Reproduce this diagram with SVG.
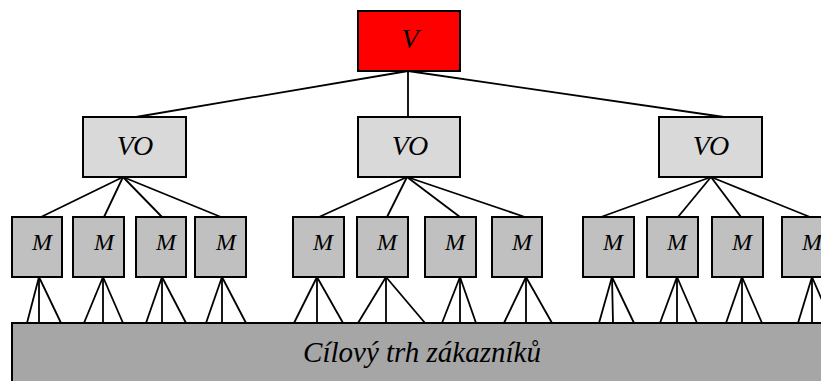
<svg xmlns="http://www.w3.org/2000/svg" width="821" height="381" viewBox="0 0 821 381">
  <style>
    .box { stroke: #000; stroke-width: 2; }
    .v { fill: #ff0000; }
    .vo { fill: #d9d9d9; }
    .m { fill: #c0c0c0; }
    .base { fill: #a6a6a6; }
    .lbl { font-family: "Liberation Serif", "Times New Roman", serif; font-style: italic; fill: #000; text-anchor: middle; }
    .big { font-size: 28px; }
    .small { font-size: 24px; }
    .base-lbl { font-size: 29px; }
    .links line { stroke: #000; stroke-width: 1.8; }
  </style>
  <rect width="821" height="381" fill="#fff"/>

  <!-- connectors -->
  <g id="connectors" class="links">
    <!-- V to VO -->
    <line x1="408" y1="71" x2="136" y2="117"/>
    <line x1="408" y1="71" x2="408" y2="117"/>
    <line x1="408" y1="71" x2="724" y2="117"/>
    <!-- left VO to M -->
    <line x1="123" y1="177" x2="41" y2="217"/>
    <line x1="123" y1="177" x2="104" y2="217"/>
    <line x1="123" y1="177" x2="162" y2="217"/>
    <line x1="123" y1="177" x2="221" y2="217"/>
    <!-- middle VO to M -->
    <line x1="407" y1="177" x2="319" y2="217"/>
    <line x1="407" y1="177" x2="387" y2="217"/>
    <line x1="407" y1="177" x2="460" y2="217"/>
    <line x1="407" y1="177" x2="525" y2="217"/>
    <!-- right VO to M -->
    <line x1="711" y1="177" x2="601" y2="217"/>
    <line x1="711" y1="177" x2="678" y2="217"/>
    <line x1="711" y1="177" x2="741" y2="217"/>
    <line x1="711" y1="177" x2="810" y2="217"/>
    <!-- M to market -->
    <line x1="39" y1="277" x2="27" y2="323"/><line x1="39" y1="277" x2="39" y2="323"/><line x1="39" y1="277" x2="61" y2="323"/>
    <line x1="103" y1="277" x2="84" y2="323"/><line x1="103" y1="277" x2="103" y2="323"/><line x1="103" y1="277" x2="123" y2="323"/>
    <line x1="162" y1="277" x2="146" y2="323"/><line x1="162" y1="277" x2="162" y2="323"/><line x1="162" y1="277" x2="186" y2="323"/>
    <line x1="222" y1="277" x2="206" y2="323"/><line x1="222" y1="277" x2="222" y2="323"/><line x1="222" y1="277" x2="246" y2="323"/>
    <line x1="317" y1="277" x2="294" y2="323"/><line x1="317" y1="277" x2="317" y2="323"/><line x1="317" y1="277" x2="343" y2="323"/>
    <line x1="386" y1="277" x2="358" y2="323"/><line x1="386" y1="277" x2="386" y2="323"/><line x1="386" y1="277" x2="425" y2="323"/>
    <line x1="460" y1="277" x2="442" y2="323"/><line x1="460" y1="277" x2="460" y2="323"/><line x1="460" y1="277" x2="476" y2="323"/>
    <line x1="526" y1="277" x2="504" y2="323"/><line x1="526" y1="277" x2="526" y2="323"/><line x1="526" y1="277" x2="552" y2="323"/>
    <line x1="612" y1="277" x2="599" y2="323"/><line x1="612" y1="277" x2="613" y2="323"/><line x1="612" y1="277" x2="634" y2="323"/>
    <line x1="677" y1="277" x2="660" y2="323"/><line x1="677" y1="277" x2="677" y2="323"/><line x1="677" y1="277" x2="697" y2="323"/>
    <line x1="742" y1="277" x2="726" y2="323"/><line x1="742" y1="277" x2="742" y2="323"/><line x1="742" y1="277" x2="762" y2="323"/>
    <line x1="812" y1="277" x2="798" y2="323"/><line x1="812" y1="277" x2="812" y2="323"/><line x1="812" y1="277" x2="832" y2="323"/>
  </g>

  <!-- top -->
  <g id="v">
    <rect class="box v" x="358" y="11" width="102" height="60"/>
    <text class="lbl big" x="410" y="48">V</text>
  </g>

  <!-- second level -->
  <g id="vo1">
    <rect class="box vo" x="83" y="117" width="103" height="60"/>
    <text class="lbl big" x="135" y="155">VO</text>
  </g>
  <g id="vo2">
    <rect class="box vo" x="358" y="117" width="102" height="60"/>
    <text class="lbl big" x="410" y="155">VO</text>
  </g>
  <g id="vo3">
    <rect class="box vo" x="659" y="117" width="103" height="60"/>
    <text class="lbl big" x="711" y="155">VO</text>
  </g>

  <!-- third level -->
  <g id="m1"><rect class="box m" x="12" y="217" width="50" height="60"/><text class="lbl small" x="42" y="250">M</text></g>
  <g id="m2"><rect class="box m" x="73" y="217" width="51" height="60"/><text class="lbl small" x="104" y="250">M</text></g>
  <g id="m3"><rect class="box m" x="136" y="217" width="50" height="60"/><text class="lbl small" x="166" y="250">M</text></g>
  <g id="m4"><rect class="box m" x="195" y="217" width="51" height="60"/><text class="lbl small" x="226" y="250">M</text></g>
  <g id="m5"><rect class="box m" x="293" y="217" width="51" height="60"/><text class="lbl small" x="323" y="250">M</text></g>
  <g id="m6"><rect class="box m" x="357" y="217" width="51" height="60"/><text class="lbl small" x="387" y="250">M</text></g>
  <g id="m7"><rect class="box m" x="425" y="217" width="51" height="60"/><text class="lbl small" x="455" y="250">M</text></g>
  <g id="m8"><rect class="box m" x="492" y="217" width="50" height="60"/><text class="lbl small" x="522" y="250">M</text></g>
  <g id="m9"><rect class="box m" x="583" y="217" width="51" height="60"/><text class="lbl small" x="613" y="250">M</text></g>
  <g id="m10"><rect class="box m" x="647" y="217" width="51" height="60"/><text class="lbl small" x="677" y="250">M</text></g>
  <g id="m11"><rect class="box m" x="712" y="217" width="51" height="60"/><text class="lbl small" x="742" y="250">M</text></g>
  <g id="m12"><rect class="box m" x="782" y="217" width="51" height="60"/><text class="lbl small" x="812" y="250">M</text></g>

  <!-- market -->
  <g id="market">
    <rect class="box base" x="12" y="323" width="830" height="80"/>
    <text class="lbl base-lbl" x="422" y="362">Cílový trh zákazníků</text>
  </g>
</svg>
